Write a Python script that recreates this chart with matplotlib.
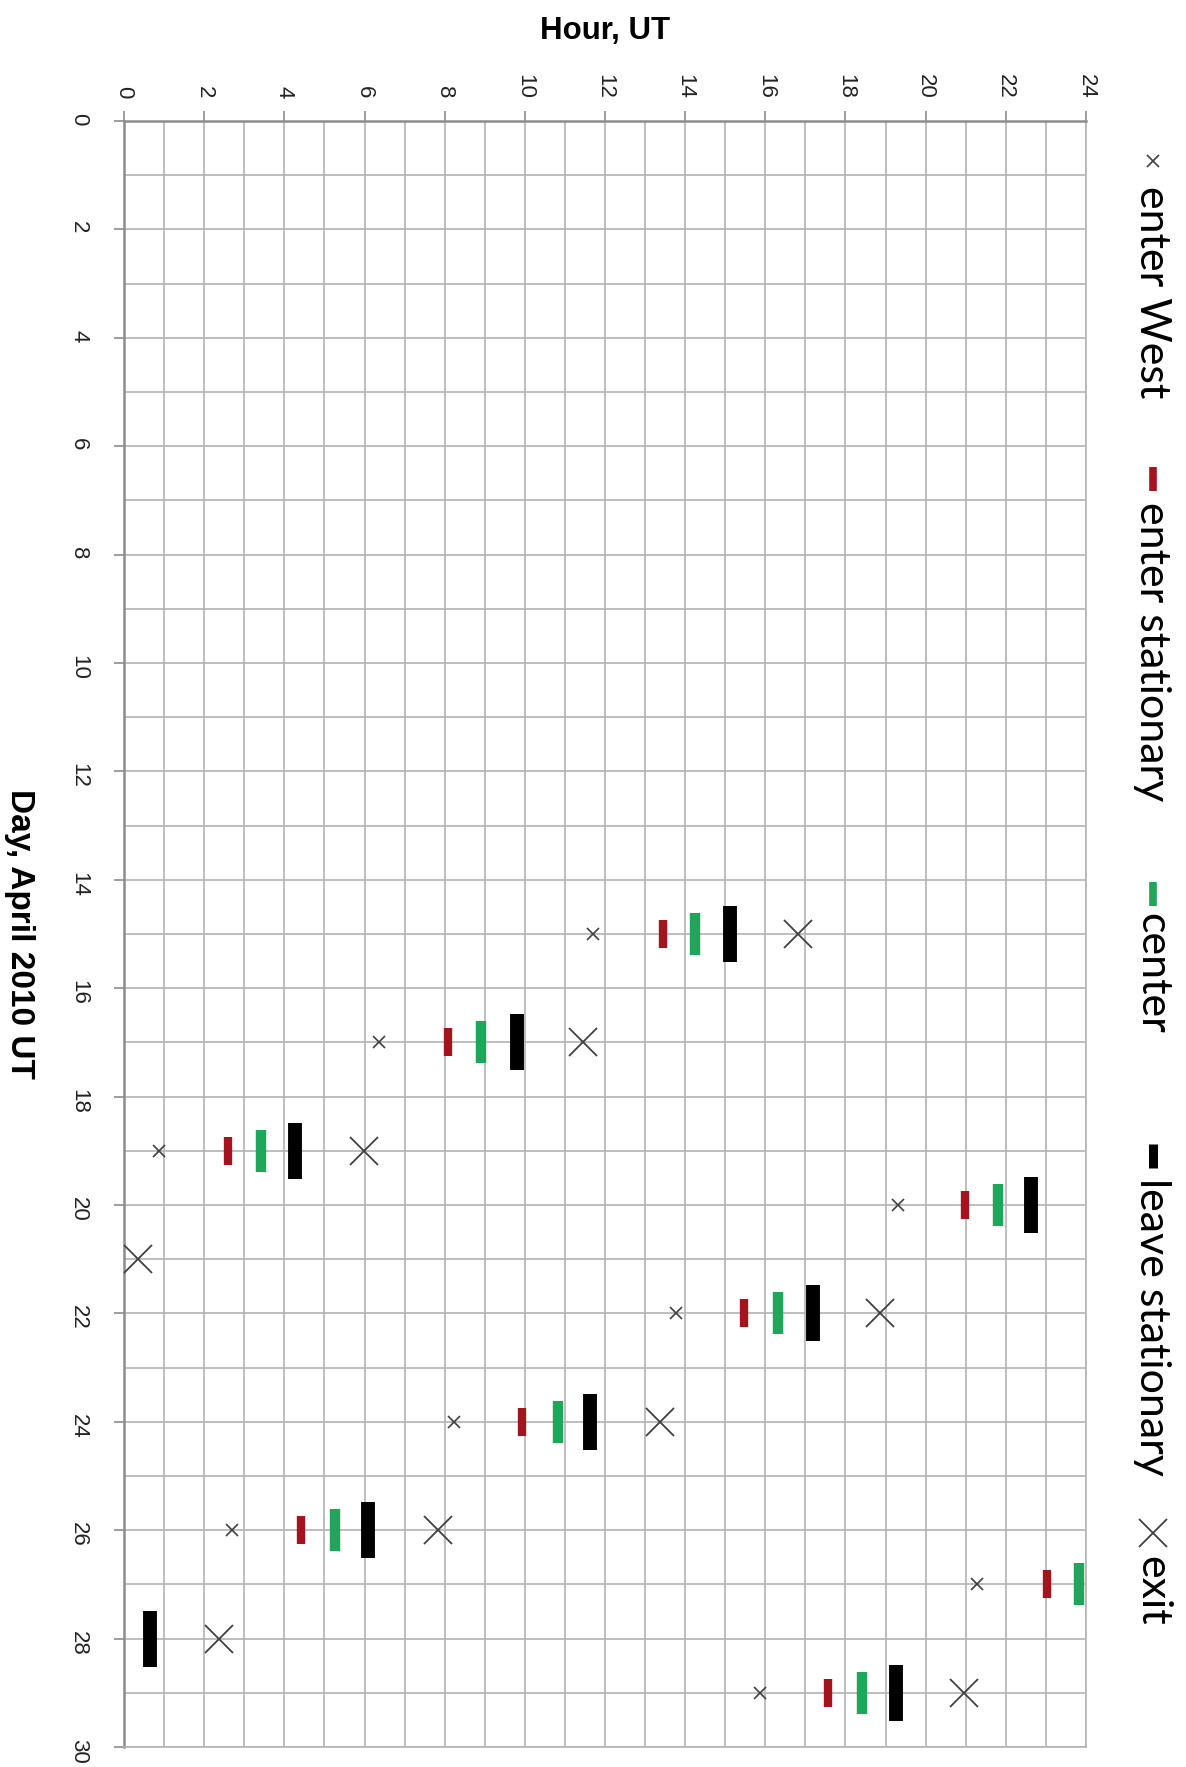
import matplotlib.pyplot as plt

# Day of April 2010 and hour (UT) for each kind of event
west_days = [15, 17, 19, 20, 22, 24, 26, 27, 29]
west_hours = [11.70, 6.37, 0.88, 19.30, 13.77, 8.23, 2.70, 21.28, 15.86]

stat_days = [15, 17, 19, 20, 22, 24, 26, 27, 29]
stat_hours = [13.44, 8.08, 2.59, 20.97, 15.46, 9.94, 4.42, 23.02, 17.57]

center_days = [15, 17, 19, 20, 22, 24, 26, 27, 29]
center_hours = [14.25, 8.90, 3.41, 21.80, 16.31, 10.82, 5.27, 23.83, 18.40]

leave_days = [15, 17, 19, 20, 22, 24, 26, 28, 29]
leave_hours = [15.11, 9.80, 4.27, 22.64, 17.18, 11.63, 6.08, 0.65, 19.25]

exit_days = [15, 17, 19, 21, 22, 24, 26, 28, 29]
exit_hours = [16.82, 11.46, 5.98, 0.34, 18.87, 13.38, 7.83, 2.37, 20.96]

legend_labels = ['enter West', 'enter stationary', 'center', 'leave stationary', 'exit']

RED = '#a3141f'
GREEN = '#1ea65a'
GREY = '#404040'

W, H = 1186, 1767
fig = plt.figure(figsize=(W / 100, H / 100), dpi=100)
ax = fig.add_axes([124 / W, 20 / H, 962 / W, 1626 / H])

ax.set_xlim(0, 24)
ax.set_ylim(30, 0)
ax.set_xticks(range(0, 25, 2))
ax.set_xticks(range(0, 25, 1), minor=True)
ax.set_yticks(range(0, 31, 2))
ax.set_yticks(range(0, 31, 1), minor=True)
ax.xaxis.tick_top()
ax.xaxis.set_label_position('top')
ax.tick_params(axis='both', which='major', length=7, width=1.2, color='#8c8c8c',
               labelsize=16, direction='out')
ax.tick_params(axis='both', which='minor', length=0)
ax.tick_params(axis='x', pad=9)
ax.tick_params(axis='y', pad=18)
for lab in ax.get_xticklabels() + ax.get_yticklabels():
    lab.set_rotation(-90)
    lab.set_family('Liberation Sans')
    lab.set_color('#222222')

ax.grid(True, which='both', color='#b3b3b3', linewidth=1.2)
ax.set_axisbelow(True)
for side in ['left', 'top']:
    ax.spines[side].set_color('#8c8c8c')
    ax.spines[side].set_linewidth(1.8)
for side in ['right', 'bottom']:
    ax.spines[side].set_color('#b3b3b3')
    ax.spines[side].set_linewidth(1.2)

ax.set_xlabel('Hour, UT', fontsize=22.5, fontweight='bold', family='Liberation Sans', labelpad=25)
ax.set_ylabel('Day, April 2010 UT', fontsize=24, fontweight='bold', family='Liberation Sans',
              rotation=-90, labelpad=46, va='bottom')

# events
ax.plot(west_hours, west_days, 'x', ms=9, mew=1.2, color=GREY, clip_on=False, zorder=3)
ax.plot(stat_hours, stat_days, '|', ms=20, mew=6, color=RED, clip_on=False, zorder=3)
ax.plot(center_hours, center_days, '|', ms=30, mew=7.5, color=GREEN, clip_on=False, zorder=3)
ax.plot(leave_hours, leave_days, '|', ms=40, mew=10, color='black', clip_on=False, zorder=3)
ax.plot(exit_hours, exit_days, 'x', ms=20, mew=1.3, color=GREY, clip_on=False, zorder=3)

# rotated legend drawn on an overlay in pixel units
lg = fig.add_axes([0, 0, 1, 1])
lg.set_xlim(0, W)
lg.set_ylim(H, 0)
lg.axis('off')
lg.patch.set_visible(False)

marker_y = [161, 479, 894, 1156, 1533]
text_y = [186, 502, 913, 1178, 1556]
styles = [
    dict(marker='x', ms=9, mew=1.2, color=GREY),
    dict(marker='|', ms=17, mew=5.5, color=RED),
    dict(marker='|', ms=17, mew=5.5, color=GREEN),
    dict(marker='|', ms=17, mew=6.5, color='black'),
    dict(marker='x', ms=20, mew=1.3, color=GREY),
]
for label, my, ty, st in zip(legend_labels, marker_y, text_y, styles):
    lg.plot([1153], [my], linestyle='none', **st)
    lg.text(1152, ty, label, rotation=-90, ha='center', va='top',
            fontsize=31, family='Lato', color='black')

fig.savefig('out.png', dpi=100)
